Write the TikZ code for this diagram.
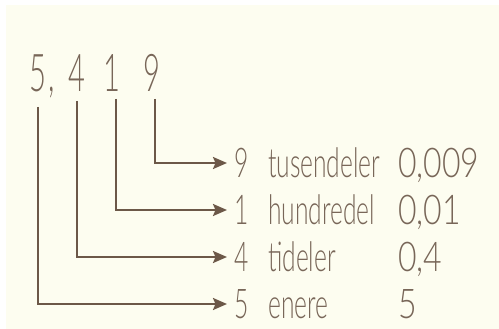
\documentclass[tikz,border=0pt]{standalone}
\usepackage{fontspec}
\newfontfamily\handrow[FakeStretch=0.6]{Lato Light}
\newfontfamily\handval[FakeStretch=0.78]{Lato Light}
\newfontfamily\handtop[FakeStretch=0.56]{Lato Light}
\usetikzlibrary{arrows.meta,calc}
\definecolor{cream}{RGB}{253,253,240}
\definecolor{linebrown}{RGB}{108,88,72}
\definecolor{textbrown}{RGB}{120,102,88}
\tikzset{
  topdigit/.style={inner sep=0pt, anchor=base, text=textbrown, font=\handtop\fontsize{52}{52}\selectfont},
  rowtxt/.style={inner sep=0pt, text=textbrown, font=\handrow\fontsize{41}{41}\selectfont},
  valtxt/.style={inner sep=0pt, text=textbrown, font=\handval\fontsize{41}{41}\selectfont},
  conn/.style={draw=linebrown, line width=2.2pt, -{Stealth[length=14pt,width=12pt,inset=2.5pt]}, line join=miter}
}
\begin{document}
\begin{tikzpicture}[x=1pt,y=-1pt]
\useasboundingbox (0,0) rectangle (499,329);
\fill[cream] (6,5) rectangle (499,329);
% top number
\node[topdigit] (d5) at (38,92) {5};
\node[topdigit, anchor=base west] (comma) at (48,92) {,};
\node[topdigit] (d4) at (77,92) {4};
\node[topdigit] (d1) at (112,92) {1};
\node[topdigit] (d9) at (152,92) {9};
% rows
\node[rowtxt, anchor=west] (t9) at (234,163) {9};
\node[rowtxt, anchor=base west] (w9) at ([xshift=34pt]t9.base west) {tusendeler};
\node[valtxt, anchor=base west] (v9) at ([xshift=164pt]t9.base west) {0,009};
\node[rowtxt, anchor=west] (t1) at (234,210) {1};
\node[rowtxt, anchor=base west] (w1) at ([xshift=34pt]t1.base west) {hundredel};
\node[valtxt, anchor=base west] (v1) at ([xshift=164pt]t1.base west) {0,01};
\node[rowtxt, anchor=west] (t4) at (234,257) {4};
\node[rowtxt, anchor=base west] (w4) at ([xshift=34pt]t4.base west) {tideler};
\node[valtxt, anchor=base west] (v4) at ([xshift=164pt]t4.base west) {0,4};
\node[rowtxt, anchor=west] (t5) at (234,304) {5};
\node[rowtxt, anchor=base west] (w5) at ([xshift=34pt]t5.base west) {enere};
\node[valtxt, anchor=base west] (v5) at ([xshift=164pt]t5.base west) {5};
% connectors
\draw[conn, shorten >=7pt] ([xshift=3pt,yshift=-7pt]d9.base) |- (t9.west);
\draw[conn, shorten >=7pt] ([xshift=4pt,yshift=-7pt]d1.base) |- (t1.west);
\draw[conn, shorten >=7pt] ([yshift=-9pt]d4.base) |- (t4.west);
\draw[conn, shorten >=7pt] ([yshift=-15pt]d5.base) |- (t5.west);
\end{tikzpicture}
\end{document}
